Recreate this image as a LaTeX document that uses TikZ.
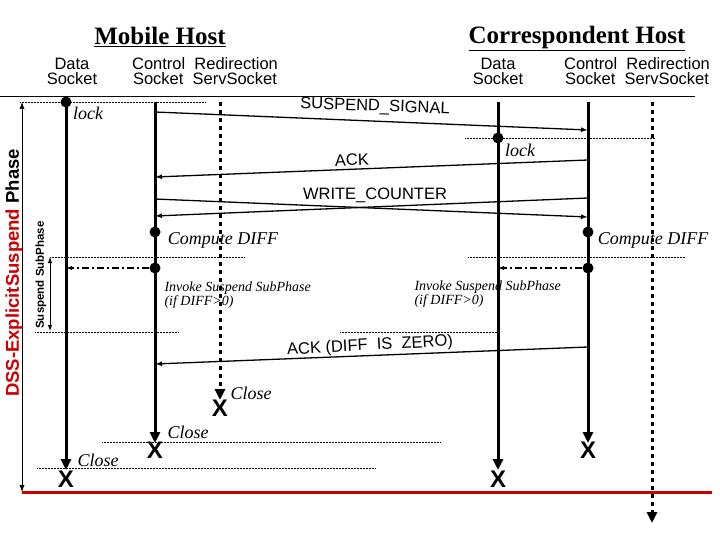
\documentclass[tikz,border=0pt]{standalone}
\usepackage{fontspec}
\setsansfont{Liberation Sans}
\setmainfont{Liberation Serif}
\usetikzlibrary{arrows.meta}
\tikzset{
  life/.style={line width=3pt},
  redir/.style={line width=3pt, dash pattern=on 4pt off 4pt},
  msg/.style={line width=1.3pt, -{Latex[length=7pt,width=5pt]}},
  guide/.style={densely dotted, line width=0.5pt},
  endtip/.style={-{Triangle[length=11pt,width=10pt]}},
  hdr/.style={font=\sffamily\fontsize{16.5}{15}\selectfont, align=center},
  itl/.style={font=\itshape\fontsize{18}{18}\selectfont},
  small/.style={font=\itshape\fontsize{14}{12.5}\selectfont, align=left, anchor=west},
  dot/.style={circle, fill, inner sep=0pt, minimum size=11pt},
}
\begin{document}
\begin{tikzpicture}[x=1pt,y=-1pt]
\useasboundingbox (0,0) rectangle (720,540);
% headers
\node[font=\bfseries\fontsize{25}{25}\selectfont] (mh) at (160,37) {\underline{Mobile Host}};
\node[font=\bfseries\fontsize{25}{25}\selectfont] (ch) at (577,38) {\underline{Correspondent Host}};
\node[hdr] (mhd) at (72,71) {Data\\Socket};
\node[hdr] (mhc) at (205,71) {Control\ \ Redirection\\Socket\ \ ServSocket};
\node[hdr] (chd) at (498,71) {Data\\Socket};
\node[hdr] (chc) at (637,71) {Control\ \ Redirection\\Socket\ \ ServSocket};
\draw[line width=0.6pt] (0,96) -- (695,96);
% guides
\draw[guide] (20,102) -- (205,102);
\draw[guide] (465,138) -- (655,138);
\draw[guide] (50,257) -- (245,257);
\draw[guide] (468,257) -- (685,257);
\draw[guide] (35,332) -- (178,332);
\draw[guide] (340,332) -- (497,332);
\draw[guide] (102,442) -- (440,442);
\draw[guide] (37,468) -- (375,468);
% lifelines
\coordinate (a0) at (66,102);  \coordinate (a1) at (66,470);
\coordinate (b0) at (155,102); \coordinate (b1) at (155,443);
\coordinate (c0) at (220,102); \coordinate (c1) at (220,400);
\coordinate (d0) at (498,102); \coordinate (d1) at (498,470);
\coordinate (e0) at (588,102); \coordinate (e1) at (588,443);
\coordinate (f0) at (652,102); \coordinate (f1) at (652,523);
\draw[life,endtip] (a0) -- (a1);
\draw[life,endtip] (b0) -- (b1);
\draw[redir,endtip] (c0) -- (c1);
\draw[life,endtip] (d0) -- (d1);
\draw[life,endtip] (e0) -- (e1);
\draw[redir,endtip] (f0) -- (f1);
% closes
\foreach \n/\x/\y in {xa/66/479, xb/155/450, xc/220/408, xd/498/479, xe/588/450}
  \node[font=\sffamily\bfseries\fontsize{24}{24}\selectfont] (\n) at (\x,\y) {X};
% dots
\node[dot] (la) at (66,102) {};
\node[dot] (ld) at (498,138) {};
\node[dot] (cb) at (155,232) {};
\node[dot] (ce) at (588,232) {};
\node[dot] (ib) at (155,268) {};
\node[dot] (ie) at (588,268) {};
% messages
\coordinate (s0) at (155,112); \coordinate (s1) at (588,130);
\coordinate (k0) at (588,160); \coordinate (k1) at (155,177);
\coordinate (w0) at (155,199); \coordinate (w1) at (588,217);
\coordinate (v0) at (588,198); \coordinate (v1) at (155,216);
\coordinate (z0) at (588,347); \coordinate (z1) at (155,364);
\draw[msg] (s0) -- (s1);
\draw[msg] (k0) -- (k1);
\draw[msg] (w0) -- (w1);
\draw[msg] (v0) -- (v1);
\draw[msg] (z0) -- (z1);
\draw[line width=1.3pt, dash pattern=on 7pt off 3pt on 2pt off 3pt, -{Latex[length=6pt]}] (ib) -- (66,268);
\draw[line width=1.3pt, dash pattern=on 7pt off 3pt on 2pt off 3pt, -{Latex[length=6pt]}] (ie) -- (498,268);
\node[hdr, rotate=-2] (tss) at (375,107) {SUSPEND\_SIGNAL};
\node[hdr, rotate=2] (tak) at (352,160) {ACK};
\node[hdr] (twc) at (375,195) {WRITE\_COUNTER};
\node[hdr, rotate=3] (tz) at (370,346) {ACK (DIFF\ \ IS\ \ ZERO)};
% annotations
\node[itl] (lka) at (88,113) {lock};
\node[itl] (lkd) at (520,150) {lock};
\node[itl] (cda) at (223,240) {Compute DIFF};
\node[itl] (cdb) at (653,240) {Compute DIFF};
\node[small] (iva) at (161,295) {Invoke Suspend SubPhase\\(if DIFF>0)};
\node[small] (ivb) at (411,294) {Invoke Suspend SubPhase\\(if DIFF>0)};
\node[itl] (cla) at (251,393) {Close};
\node[itl] (clb) at (188,432) {Close};
\node[itl] (clc) at (98,460) {Close};
% phases
\draw[red!80!black, line width=3pt] (22,492) -- (712,492);
\draw[line width=1pt, {Latex[length=7pt]}-{Latex[length=7pt]}] (22,102) -- (22,492);
\draw[line width=1pt, {Latex[length=6pt]}-{Latex[length=6pt]}] (50,257) -- (50,331);
\node[rotate=90, font=\sffamily\bfseries\fontsize{18.5}{18}\selectfont] (ph) at (14,273) {\textcolor{red!80!black}{DSS-ExplicitSuspend} Phase};
\node[rotate=90, font=\sffamily\bfseries\fontsize{11.5}{11}\selectfont] (sp) at (41,275) {Suspend SubPhase};
\end{tikzpicture}
\end{document}
